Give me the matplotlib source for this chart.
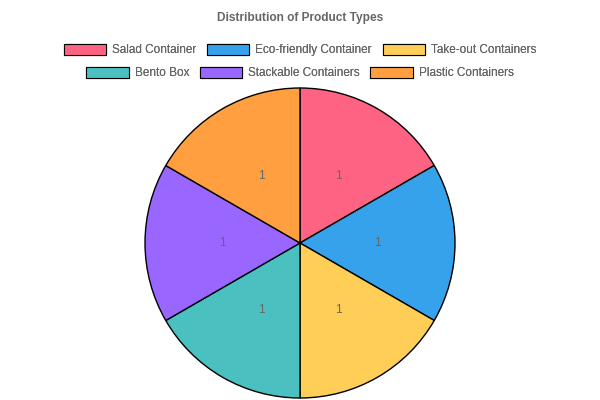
import matplotlib.pyplot as plt
import matplotlib.patches as mpatches

labels = [
    "Salad Container",
    "Eco-friendly Container",
    "Take-out Containers",
    "Bento Box",
    "Stackable Containers",
    "Plastic Containers",
]
values = [1, 1, 1, 1, 1, 1]
colors = ["#FF6384", "#36A2EB", "#FFCE56", "#4BC0C0", "#9966FF", "#FF9F40"]

plt.rcParams["font.family"] = ["Liberation Sans", "DejaVu Sans"]

fig = plt.figure(figsize=(6, 4), dpi=100)
ax = fig.add_axes([145 / 600, 2 / 400, 310 / 600, 310 / 400])

wedges, texts = ax.pie(
    values,
    colors=colors,
    startangle=90,
    counterclock=False,
    labels=[str(v) for v in values],
    labeldistance=0.5,
    wedgeprops={"edgecolor": "black", "linewidth": 1},
    textprops={"color": "#666666", "fontsize": 8.6, "ha": "center", "va": "center"},
)
ax.set_xlim(-1, 1)
ax.set_ylim(-1, 1)
ax.set_aspect("equal")

fig.text(0.5, 1 - 18 / 400, "Distribution of Product Types", ha="center", va="center",
         fontsize=8.6, fontweight="bold", color="#666666")

handles = [mpatches.Patch(facecolor=c, edgecolor="black", linewidth=0.8) for c in colors]

for row, y in enumerate([50, 73]):
    leg = fig.legend(
        handles[row * 3:row * 3 + 3],
        labels[row * 3:row * 3 + 3],
        loc="center",
        bbox_to_anchor=(0.5, 1 - y / 400),
        ncol=3,
        frameon=False,
        fontsize=8.5,
        handlelength=3.6,
        handleheight=1.15,
        handletextpad=0.5,
        columnspacing=0.9,
        borderpad=0,
        borderaxespad=0,
    )
    for t in leg.get_texts():
        t.set_color("#666666")
    fig.add_artist(leg)

fig.savefig("out.png", dpi=100)
